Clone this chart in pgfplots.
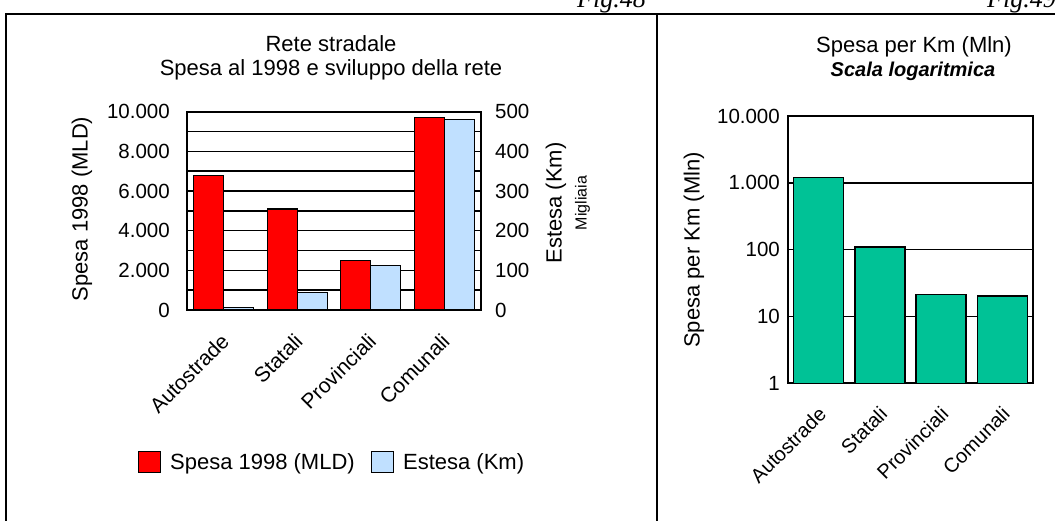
\documentclass[border=0pt]{standalone}
\usepackage{pgfplots}
\pgfplotsset{compat=1.18}
\usepackage{fontspec}
\setmainfont{Liberation Sans}
\newfontfamily\figfont{Liberation Serif}
\definecolor{rosso}{RGB}{255,0,0}
\definecolor{azzurro}{RGB}{192,224,255}
\definecolor{verde}{RGB}{0,194,150}
\newcommand{\fs}[1]{\fontsize{#1}{#1}\selectfont}
\pgfplotsset{sqleg/.style={legend image code/.code={\draw[##1] (0pt,-10.5pt) rectangle (22pt,10.5pt);}}}
\begin{document}
\begin{tikzpicture}
\useasboundingbox (0pt,0pt) rectangle (1055pt,520pt);
% frames
\draw[line width=2pt] (6pt,-5pt) -- (6pt,505.5pt) -- (1060pt,505.5pt);
\draw[line width=2pt] (657pt,-5pt) -- (657pt,505.5pt);
\node[anchor=base east, font=\figfont\itshape\fs{26}, inner sep=0pt] at (646pt,512.7pt) {Fig.48};
\node[anchor=base west, font=\figfont\itshape\fs{26}, inner sep=0pt] at (987pt,512.7pt) {Fig.49};
% left titles
\node[anchor=base, font=\fs{22}, inner sep=0pt] at (331pt,468pt) {Rete stradale};
\node[anchor=base, font=\fs{22}, inner sep=0pt] at (331pt,444.5pt) {Spesa al 1998 e sviluppo della rete};
% right titles
\node[anchor=base, font=\fs{22}, inner sep=0pt] at (914pt,467pt) {Spesa per Km (Mln)};
\node[anchor=base, font=\fs{20}\bfseries\itshape, inner sep=0pt] at (913pt,443pt) {Scala logaritmica};

% ---------- left chart: primary axis ----------
\begin{axis}[
  at={(187pt,210pt)}, anchor=south west, scale only axis,
  width=294pt, height=198.3pt,
  xmin=-0.5, xmax=3.5, ymin=0, ymax=10000,
  scaled y ticks=false,
  xtick={0,1,2,3}, xticklabels={Autostrade,Statali,Provinciali,Comunali},
  ytick={0,2000,4000,6000,8000,10000},
  yticklabels={0,2.000,4.000,6.000,8.000,10.000},
  minor ytick={1000,3000,5000,7000,9000},
  ymajorgrids, yminorgrids,
  major grid style={black, line width=1.6pt},
  minor grid style={black, line width=1.6pt},
  major tick length=0pt, minor tick length=0pt,
  axis line style={line width=2.2pt},
  xticklabel style={xshift=-4pt, yshift=-22pt, rotate=45, anchor=north east, inner sep=0pt, font=\fs{21}},
  yticklabel style={font=\fs{20.5}, inner sep=0pt, xshift=-17pt, anchor=east},
  ylabel={Spesa 1998 (MLD)},
  ylabel style={font=\fs{22}, at={(axis description cs:-0.357,0.509)}, anchor=center},
  clip=false,
]
\addplot[ybar, bar width=30pt, bar shift=-15pt, fill=rosso, draw=black, line width=1.3pt]
  coordinates {(0,6800) (1,5100) (2,2500) (3,9700)};
\end{axis}

% ---------- left chart: secondary axis ----------
\begin{axis}[
  at={(187pt,210pt)}, anchor=south west, scale only axis,
  width=294pt, height=198.3pt,
  xmin=-0.5, xmax=3.5, ymin=0, ymax=500,
  axis y line*=right, axis x line=none,
  ytick={0,100,200,300,400,500},
  minor ytick={50,150,250,350,450},
  tick align=inside,
  major tick length=8pt, minor tick length=8pt,
  every tick/.style={black, line width=1.6pt},
  axis line style={line width=2.2pt},
  yticklabel style={font=\fs{20.5}, inner sep=0pt, xshift=14pt, anchor=west},
  /pgf/number format/assume math mode=true,
  legend columns=2,
  legend style={draw=none, fill=none, font=\fs{22},
    at={(axis description cs:-0.177,-0.766)}, anchor=west,
    /tikz/every odd column/.append style={column sep=7pt},
    /tikz/every even column/.append style={column sep=14pt}},
  clip=false,
]
\addlegendimage{fill=rosso, draw=black, line width=1pt, sqleg}
\addlegendentry{Spesa 1998 (MLD)}
\addplot[ybar, bar width=30pt, bar shift=15pt, fill=azzurro, draw=black, line width=1.3pt, sqleg]
  coordinates {(0,6.5) (1,45) (2,112) (3,480)};
\addlegendentry{Estesa (Km)}
\node[rotate=90, font=\fs{22}, anchor=center] at (axis description cs:1.255,0.54) {Estesa (Km)};
\node[rotate=90, font=\fs{16}, anchor=center] at (axis description cs:1.345,0.54) {Migliaia};
\end{axis}

% ---------- right chart ----------
\begin{axis}[
  at={(788pt,136.7pt)}, anchor=south west, scale only axis,
  width=245pt, height=267.3pt,
  xmin=-0.5, xmax=3.5, ymode=log, ymin=1, ymax=10000, log origin=infty,
  xtick={0,1,2,3}, xticklabels={Autostrade,Statali,Provinciali,Comunali},
  ytick={1,10,100,1000,10000},
  yticklabels={1,10,100,1.000,10.000},
  minor ytick={}, 
  ymajorgrids,
  major grid style={black, line width=1.6pt},
  major tick length=0pt, minor tick length=0pt,
  axis line style={line width=2.2pt},
  xticklabel style={xshift=-1.5pt, yshift=-22pt, rotate=45, anchor=north east, inner sep=0pt, font=\fs{20}},
  yticklabel style={font=\fs{20.5}, inner sep=0pt, xshift=-8pt, anchor=east},
  ylabel={Spesa per Km (Mln)},
  ylabel style={font=\fs{22}, at={(axis description cs:-0.384,0.499)}, anchor=center},
  clip=false,
]
\addplot[ybar, bar width=50pt, fill=verde, draw=black, line width=1.3pt]
  coordinates {(0,1200) (1,110) (2,21.5) (3,20.2)};
\end{axis}
\end{tikzpicture}
\end{document}
